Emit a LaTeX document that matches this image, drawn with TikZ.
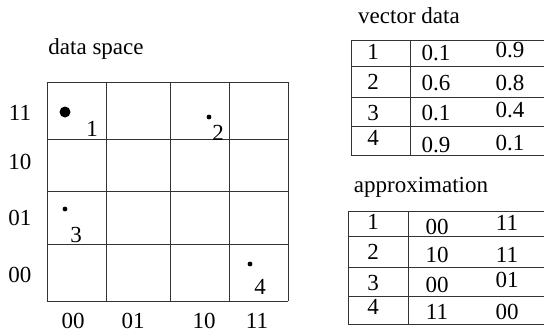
\documentclass[tikz,border=0pt]{standalone}
\usepackage{fontspec}
\setmainfont{Liberation Serif}
\usetikzlibrary{positioning}

\begin{document}
\begin{tikzpicture}[x=1pt, y=-1pt,
  lbl/.style={inner sep=0pt, font=\fontsize{23}{27}\selectfont},
  title/.style={lbl, anchor=base},
  gridline/.style={line width=0.8pt, black!80},
  tabline/.style={line width=0.9pt, black!80},
  datadot/.style={circle, fill, inner sep=0pt, minimum size=4.8pt},
  bigdot/.style={circle, fill, inner sep=0pt, minimum size=11pt}
]
\useasboundingbox (0,0) rectangle (544,333);

\node[title] (dspace) at (96,54) {data space};
\foreach \x in {47,106,170,229,288} \draw[gridline] (\x,82) -- (\x,301);
\foreach \y in {82,139,191,244,301} \draw[gridline] (47,\y) -- (288,\y);
\foreach \t/\y in {11/113,10/162,01/218,00/275}
  \node[lbl] (r\t) at (20,\y) {\t};
\foreach \t/\x in {00/73,01/133,10/204,11/257}
  \node[lbl] (c\t) at (\x,321) {\t};

\node[bigdot] (p1) at (65,112) {};
\node[lbl] (l1) at (92,129) {1};
\node[datadot] (p2) at (209,117) {};
\node[lbl] (l2) at (218,133) {2};
\node[datadot] (p3) at (65,209) {};
\node[lbl] (l3) at (76,235) {3};
\node[datadot] (p4) at (250,264) {};
\node[lbl] (l4) at (260,287) {4};

\node[title] (vtitle) at (409,23) {vector data};
\foreach \y in {40,66,97,126,155} \draw[tabline] (351,\y) -- (544,\y);
\draw[tabline] (351,40) -- (351,155) (410,40) -- (410,155);
\foreach \n/\a/\b/\yi/\ya/\yb in {1/0.1/0.9/52/53/50,2/0.6/0.8/82/83/83,
    3/0.1/0.4/113/113/110,4/0.9/0.1/138/145/143} {
  \node[lbl] (v\n) at (373,\yi) {\n};
  \node[lbl] (va\n) at (436,\ya) {\a};
  \node[lbl] (vb\n) at (510,\yb) {\b};
}

\node[title] (atitle) at (421,192) {approximation};
\foreach \y in {211,236,267,296,324} \draw[tabline] (348,\y) -- (544,\y);
\draw[tabline] (348,211) -- (348,324) (408,211) -- (408,324);
\foreach \n/\a/\b/\yi/\ya/\yb in {1/00/11/222/227/223,2/10/11/252/255/255,
    3/00/01/283/285/280,4/11/00/307/312/312} {
  \node[lbl] (q\n) at (373,\yi) {\n};
  \node[lbl] (qa\n) at (437,\ya) {\a};
  \node[lbl] (qb\n) at (507,\yb) {\b};
}
\end{tikzpicture}
\end{document}
